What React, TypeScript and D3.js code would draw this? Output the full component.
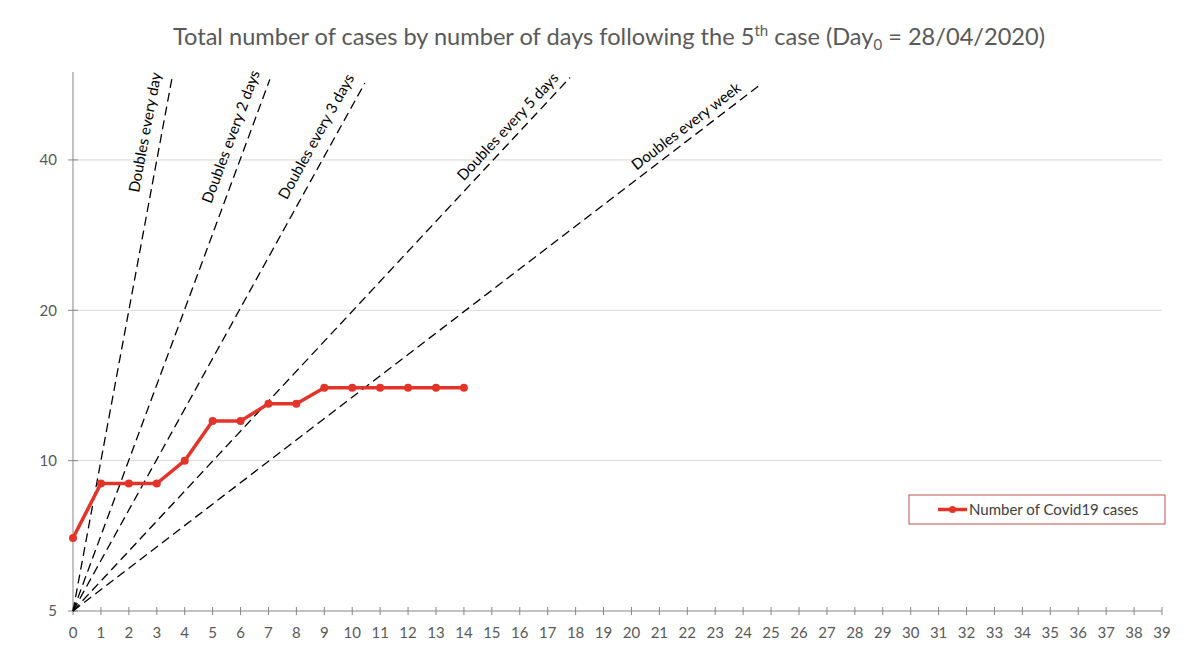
import React from "react";
import * as d3 from "d3";

const days = [0, 1, 2, 3, 4, 5, 6, 7, 8, 9, 10, 11, 12, 13, 14];
const cases = [7, 9, 9, 9, 10, 12, 12, 13, 13, 14, 14, 14, 14, 14, 14];

const xTicks = d3.range(0, 40);
const yTicks = [5, 10, 20, 40];

const doublingLabels = [
  "Doubles every day",
  "Doubles every 2 days",
  "Doubles every 3 days",
  "Doubles every 5 days",
  "Doubles every week",
];
const doublingStartDay = [0, 0, 0, 0, 0];
const doublingStartValue = [5, 5, 5, 5, 5];
const doublingEndDay = [3.55, 7.05, 10.45, 17.8, 24.6];
const doublingEndValue = [58.5, 58, 57, 58.5, 56.5];

// label placement along / off each dashed line (px)
const labelBack = [-2, -3, 0, 8, 17];
const labelOff = [11.5, 11.5, 11.5, 7, 7];

const seriesName = "Number of Covid19 cases";

const W = 1200;
const H = 664;
const FONT = "Lato, 'Open Sans', sans-serif";
const RED = "#e3342a";
const TEXT = "#595959";

export default function App() {
  const x = d3.scaleLinear().domain([0, 39]).range([73, 1162]);
  const y = d3.scaleLog().domain([5, 60]).range([611, 72]);

  const line = d3
    .line<number>()
    .x((_, i) => x(days[i]))
    .y((d) => y(d));

  return (
    <svg
      width={W}
      height={H}
      style={{ position: "absolute", left: 0, top: 0, background: "#fff" }}
      fontFamily={FONT}
    >
      <rect x={0} y={0} width={W} height={H} fill="#fff" />
      <text x={609} y={45} textAnchor="middle" fontSize={23.6} fill={TEXT}>
        Total number of cases by number of days following the 5
        <tspan fontSize={15} dy={-9}>th</tspan>
        <tspan dy={9}> case (Day</tspan>
        <tspan fontSize={15} dy={5}>0</tspan>
        <tspan dy={-5}> = 28/04/2020)</tspan>
      </text>

      {/* gridlines */}
      {yTicks
        .filter((t) => t !== 5)
        .map((t) => (
          <line
            key={"g" + t}
            x1={x(0)}
            x2={x(39)}
            y1={y(t)}
            y2={y(t)}
            stroke="#d9d9d9"
            strokeWidth={1}
          />
        ))}

      {/* y axis */}
      <line x1={x(0)} x2={x(0)} y1={y(60)} y2={y(5)} stroke="#868686" strokeWidth={1} />
      {yTicks.map((t) => (
        <g key={"yt" + t}>
          <line x1={x(0) - 5} x2={x(0) + 5} y1={y(t)} y2={y(t)} stroke="#868686" />
          <text
            x={x(0) - 16}
            y={y(t)}
            dy="0.35em"
            textAnchor="end"
            fontSize={15}
            fill={TEXT}
          >
            {t}
          </text>
        </g>
      ))}

      {/* x axis */}
      <line x1={x(0)} x2={x(39)} y1={y(5)} y2={y(5)} stroke="#868686" strokeWidth={1} />
      {xTicks.map((t) => (
        <g key={"xt" + t}>
          <line x1={x(t)} x2={x(t)} y1={y(5) - 4} y2={y(5) + 4} stroke="#868686" />
          <text x={x(t)} y={y(5) + 27} textAnchor="middle" fontSize={15} fill={TEXT}>
            {t}
          </text>
        </g>
      ))}

      {/* doubling lines */}
      {doublingLabels.map((lab, i) => {
        const x1 = x(doublingStartDay[i]);
        const y1 = y(doublingStartValue[i]);
        const x2 = x(doublingEndDay[i]);
        const y2 = y(doublingEndValue[i]);
        const dx = x2 - x1;
        const dy = y2 - y1;
        const len = Math.hypot(dx, dy);
        const ux = dx / len;
        const uy = dy / len;
        const nx = uy;
        const ny = -ux;
        const lx = x2 - ux * labelBack[i] + nx * labelOff[i];
        const ly = y2 - uy * labelBack[i] + ny * labelOff[i];
        const ang = (Math.atan2(dy, dx) * 180) / Math.PI;
        return (
          <g key={lab}>
            <line
              x1={x1}
              y1={y1}
              x2={x2}
              y2={y2}
              stroke="#000"
              strokeWidth={1.3}
              strokeDasharray="9,5"
            />
            <text
              x={lx}
              y={ly}
              transform={`rotate(${ang},${lx},${ly})`}
              textAnchor="end"
              fontSize={15}
              fill="#000"
            >
              {lab}
            </text>
          </g>
        );
      })}

      {/* series */}
      <path d={line(cases) || ""} fill="none" stroke={RED} strokeWidth={3.5} strokeLinejoin="round" />
      {cases.map((c, i) => (
        <circle key={"p" + i} cx={x(days[i])} cy={y(c)} r={4} fill={RED} />
      ))}

      {/* legend */}
      <rect x={909} y={495} width={256} height={29} fill="#fff" stroke="#c0504d" strokeWidth={1} />
      <line x1={938} x2={967} y1={509.5} y2={509.5} stroke={RED} strokeWidth={3.5} />
      <circle cx={952.5} cy={509.5} r={3.5} fill={RED} />
      <text x={969} y={514.5} fontSize={15} fill="#404040">
        {seriesName}
      </text>
    </svg>
  );
}
